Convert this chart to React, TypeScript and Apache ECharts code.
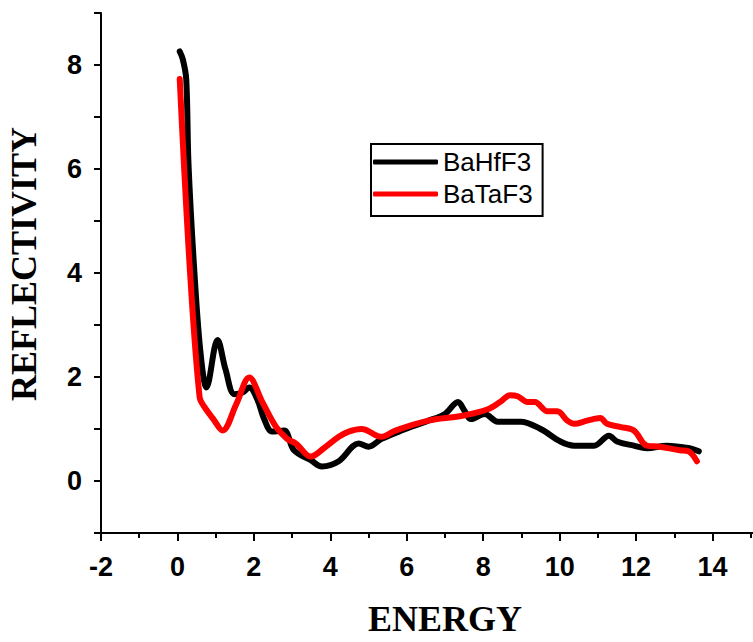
import React, { useEffect, useRef } from "react";
import * as echarts from "echarts";

// Energy (x) and reflectivity (y) samples for each compound
const hfEnergy = [0.06, 0.14, 0.23, 0.29, 0.45, 0.61, 0.76, 1.05, 1.26, 1.49, 1.7, 1.88, 2.09, 2.27, 2.48, 2.79, 3.05, 3.49, 3.78, 4.22, 4.74, 5.0, 5.34, 5.86, 6.56, 7.0, 7.34, 7.52, 7.68, 8.04, 8.38, 8.98, 9.5, 10.02, 10.38, 10.9, 11.29, 11.5, 11.94, 12.28, 12.8, 13.4, 13.64];
const hfReflect = [8.26, 8.11, 7.73, 6.08, 3.94, 2.42, 1.8, 2.71, 2.14, 1.67, 1.7, 1.8, 1.57, 1.19, 0.95, 0.97, 0.59, 0.4, 0.28, 0.38, 0.72, 0.66, 0.81, 0.97, 1.16, 1.29, 1.52, 1.34, 1.19, 1.29, 1.14, 1.14, 1.0, 0.76, 0.68, 0.68, 0.87, 0.76, 0.68, 0.63, 0.68, 0.63, 0.57];

const taEnergy = [0.06, 0.32, 0.58, 0.71, 0.94, 1.18, 1.54, 1.88, 2.22, 2.58, 2.87, 3.1, 3.49, 3.83, 4.22, 4.48, 4.82, 5.34, 5.7, 6.56, 7.42, 8.12, 8.46, 8.7, 8.9, 9.16, 9.35, 9.68, 9.94, 10.2, 10.38, 10.72, 11.06, 11.24, 11.58, 11.94, 12.28, 12.62, 13.14, 13.37, 13.59];
const taReflect = [7.73, 4.13, 1.61, 1.42, 1.19, 0.97, 1.48, 1.99, 1.52, 1.04, 0.81, 0.72, 0.47, 0.63, 0.85, 0.95, 1.0, 0.85, 0.97, 1.16, 1.25, 1.38, 1.53, 1.65, 1.63, 1.52, 1.52, 1.34, 1.34, 1.16, 1.1, 1.16, 1.21, 1.1, 1.04, 0.97, 0.68, 0.66, 0.59, 0.57, 0.38];

const seriesNames = ["BaHfF3", "BaTaF3"];
const seriesColors = ["#000000", "#ff0000"];

const xLabels = [-2, 0, 2, 4, 6, 8, 10, 12, 14];
const yLabels = [0, 2, 4, 6, 8];

const zip = (xs: number[], ys: number[]) => xs.map((x, i) => [x, ys[i]]);

export default function App() {
  const ref = useRef<HTMLDivElement>(null);

  useEffect(() => {
    if (!ref.current) return;
    const chart = echarts.init(ref.current, null, { renderer: "svg" });
    const tickFont = {
      fontFamily: "'Liberation Sans', Arial, sans-serif",
      fontWeight: "bold" as const,
      fontSize: 27,
      color: "#000",
    };
    chart.setOption({
      animation: false,
      backgroundColor: "#ffffff",
      grid: { left: 101, right: 0, top: 13, bottom: 101 },
      legend: {
        left: 371,
        top: 144,
        orient: "vertical",
        icon: "roundRect",
        itemWidth: 65,
        itemHeight: 5,
        itemGap: 6,
        padding: [5, 10, 9, 2],
        borderColor: "#000",
        borderWidth: 2,
        textStyle: {
          fontFamily: "'Liberation Sans', Arial, sans-serif",
          fontSize: 26,
          color: "#000",
        },
        data: seriesNames,
      },
      xAxis: {
        type: "value",
        min: -2,
        max: 16,
        interval: 2,
        name: "ENERGY",
        nameLocation: "middle",
        nameGap: 68,
        nameTextStyle: {
          fontFamily: "'Liberation Serif', 'Times New Roman', serif",
          fontWeight: "bold",
          fontSize: 36,
          color: "#000",
        },
        axisLine: { onZero: false, lineStyle: { color: "#000", width: 2 } },
        axisTick: { length: 8, lineStyle: { color: "#000", width: 2 } },
        minorTick: { show: true, splitNumber: 2, length: 5, lineStyle: { color: "#000", width: 2 } },
        splitLine: { show: false },
        axisLabel: {
          ...tickFont,
          margin: 20,
          formatter: (v: number) => (xLabels.includes(v) ? String(v) : ""),
        },
      },
      yAxis: {
        type: "value",
        min: -1,
        max: 9,
        interval: 1,
        axisLine: { show: true, onZero: false, lineStyle: { color: "#000", width: 2 } },
        axisTick: { show: true, length: 7, lineStyle: { color: "#000", width: 2 } },
        splitLine: { show: false },
        axisLabel: {
          ...tickFont,
          margin: 19,
          formatter: (v: number) => (yLabels.includes(v) ? String(v) : ""),
        },
      },
      graphic: [
        {
          type: "text",
          x: 24,
          y: 264,
          rotation: Math.PI / 2,
          style: {
            text: "REFLECTIVITY",
            fontFamily: "'Liberation Serif', 'Times New Roman', serif",
            fontWeight: "bold",
            fontSize: 36,
            fill: "#000",
            align: "center",
            verticalAlign: "middle",
          },
        },
      ],
      series: [
        {
          name: seriesNames[0],
          type: "line",
          data: zip(hfEnergy, hfReflect),
          smooth: 0.35,
          showSymbol: false,
          symbol: "none",
          lineStyle: { color: seriesColors[0], width: 6, cap: "round", join: "round" },
          itemStyle: { color: seriesColors[0] },
          z: 2,
        },
        {
          name: seriesNames[1],
          type: "line",
          data: zip(taEnergy, taReflect),
          smooth: 0.35,
          showSymbol: false,
          symbol: "none",
          lineStyle: { color: seriesColors[1], width: 6, cap: "round", join: "round" },
          itemStyle: { color: seriesColors[1] },
          z: 3,
        },
      ],
    });
    return () => chart.dispose();
  }, []);

  return (
    <div
      style={{
        position: "fixed",
        left: 0,
        top: 0,
        width: 753,
        height: 642,
        overflow: "hidden",
        background: "#fff",
      }}
    >
      <div ref={ref} style={{ width: 792, height: 642 }} />
    </div>
  );
}
